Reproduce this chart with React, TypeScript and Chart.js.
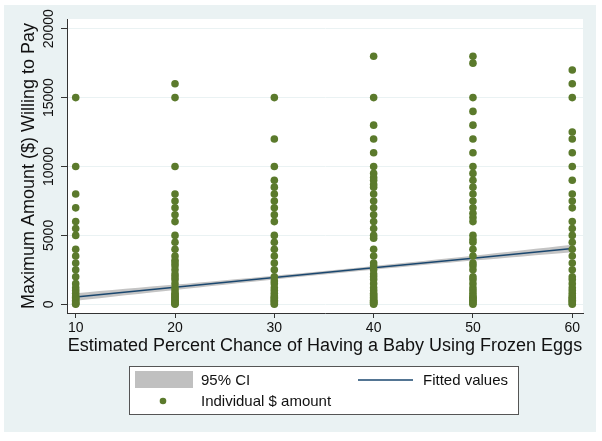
import React, { useEffect, useRef } from "react";
import { Chart, registerables } from "chart.js";

Chart.register(...registerables);

// ---- data ----
const xTicks = [10, 20, 30, 40, 50, 60];
const yTicks = [0, 5000, 10000, 15000, 20000];

const col10 = [15000, 10000, 8000, 7000, 6000, 5500, 5000, 4000, 3500, 3000, 2500, 2000, 1500, 1200, 1000, 800, 600, 500, 400, 300, 200, 100, 50, 0];
const col20 = [16000, 15000, 10000, 8000, 7500, 7000, 6500, 6000, 5000, 4500, 4000, 3500, 3200, 3000, 2800, 2500, 2200, 2000, 1800, 1500, 1200, 1000, 800, 700, 600, 500, 400, 300, 200, 100, 50, 0];
const col30 = [15000, 12000, 10000, 9000, 8500, 8000, 7500, 7000, 6500, 6000, 5000, 4500, 4000, 3500, 3000, 2500, 2000, 1700, 1500, 1200, 1000, 800, 600, 500, 400, 300, 200, 100, 0];
const col40 = [18000, 15000, 13000, 12000, 11000, 10000, 9500, 9200, 9000, 8700, 8500, 8000, 7500, 7000, 6500, 6000, 5500, 5000, 4800, 4000, 3500, 3000, 2800, 2500, 2200, 2000, 1800, 1500, 1200, 1000, 800, 700, 600, 500, 400, 300, 250, 200, 150, 100, 50, 0];
const col50 = [18000, 17500, 15000, 14000, 13000, 12000, 11000, 10000, 9500, 9000, 8500, 8000, 7500, 7000, 6600, 6300, 6000, 5000, 4700, 4500, 4000, 3500, 3000, 2800, 2500, 2000, 1800, 1500, 1200, 1000, 800, 600, 500, 400, 300, 200, 100, 0];
const col60 = [17000, 16000, 15000, 12500, 12000, 11000, 10000, 9000, 8000, 7500, 7000, 6000, 5500, 5000, 4500, 4000, 3500, 3000, 2500, 2000, 1800, 1500, 1200, 1000, 800, 600, 500, 400, 300, 200, 100, 0];
const columns = [col10, col20, col30, col40, col50, col60];

const fitY = [530, 1235, 1940, 2645, 3350, 4055];
const ciLow = [260, 1040, 1800, 2505, 3170, 3785];
const ciHigh = [800, 1430, 2080, 2785, 3530, 4325];

const labels = {
  ci: "95% CI",
  fit: "Fitted values",
  pts: "Individual $ amount",
  xTitle: "Estimated Percent Chance of Having a Baby Using Frozen Eggs",
  yTitle: "Maximum Amount ($) Willing to Pay",
};

// ---- styles ----
const FONT = "'Liberation Sans', Arial, Helvetica, sans-serif";
const GREEN = "#5B7A2C";
const NAVY = "#1A476F";
const BAND = "#C4C4C4";
const BG = "#EAF2F3";
const AXIS = "#333333";

const bgPlugin = {
  id: "stataBg",
  beforeDraw(chart: any) {
    const { ctx, chartArea } = chart;
    ctx.save();
    ctx.fillStyle = "#ffffff";
    ctx.fillRect(0, 0, chart.width, chart.height);
    ctx.fillStyle = BG;
    ctx.fillRect(4, 5, 592, 427);
    ctx.fillStyle = "#ffffff";
    ctx.fillRect(chartArea.left, chartArea.top, chartArea.right - chartArea.left, chartArea.bottom - chartArea.top);
    ctx.restore();
  },
};

const legendPlugin = {
  id: "stataLegend",
  afterDraw(chart: any) {
    const { ctx } = chart;
    ctx.save();
    ctx.fillStyle = "#ffffff";
    ctx.fillRect(129.5, 366.5, 389, 48);
    ctx.strokeStyle = "#555555";
    ctx.lineWidth = 1;
    ctx.strokeRect(129.5, 366.5, 389, 48);
    ctx.fillStyle = "#C0C0C0";
    ctx.fillRect(135, 371, 58, 17);
    ctx.strokeStyle = NAVY;
    ctx.lineWidth = 1.5;
    ctx.beginPath();
    ctx.moveTo(358, 380);
    ctx.lineTo(413, 380);
    ctx.stroke();
    ctx.fillStyle = GREEN;
    ctx.beginPath();
    ctx.arc(163, 401, 3.3, 0, Math.PI * 2);
    ctx.fill();
    ctx.fillStyle = "#111111";
    ctx.font = `15px ${FONT}`;
    ctx.textBaseline = "middle";
    ctx.textAlign = "left";
    ctx.fillText(labels.ci, 201, 380.5);
    ctx.fillText(labels.fit, 423, 380.5);
    ctx.fillText(labels.pts, 201, 401.5);
    ctx.restore();
  },
};

export default function App() {
  const ref = useRef<HTMLCanvasElement | null>(null);

  useEffect(() => {
    if (!ref.current) return;
    const points: { x: number; y: number }[] = [];
    columns.forEach((col, i) => col.forEach((v) => points.push({ x: xTicks[i], y: v })));
    const fitData = xTicks.map((x, i) => ({ x, y: fitY[i] }));
    const lowData = xTicks.map((x, i) => ({ x, y: ciLow[i] }));
    const highData = xTicks.map((x, i) => ({ x, y: ciHigh[i] }));

    Chart.defaults.font.family = FONT;

    const chart = new Chart(ref.current, {
      type: "scatter",
      data: {
        datasets: [
          {
            type: "scatter",
            label: labels.pts,
            data: points,
            backgroundColor: GREEN,
            borderColor: GREEN,
            borderWidth: 0,
            pointRadius: 3.8,
            order: 0,
          } as any,
          {
            type: "line",
            label: labels.fit,
            data: fitData,
            borderColor: NAVY,
            borderWidth: 1.5,
            pointRadius: 0,
            fill: false,
            tension: 0,
            order: 1,
          } as any,
          {
            type: "line",
            label: "ci-low",
            data: lowData,
            borderColor: "rgba(0,0,0,0)",
            borderWidth: 0,
            pointRadius: 0,
            fill: false,
            tension: 0.3,
            order: 3,
          } as any,
          {
            type: "line",
            label: labels.ci,
            data: highData,
            borderColor: "rgba(0,0,0,0)",
            backgroundColor: BAND,
            borderWidth: 0,
            pointRadius: 0,
            fill: 2,
            tension: 0.3,
            order: 2,
          } as any,
        ],
      },
      options: {
        animation: false,
        responsive: false,
        events: [],
        layout: { padding: { left: 0, top: 19, right: 19, bottom: 83 } },
        plugins: {
          legend: { display: false },
          tooltip: { enabled: false },
          filler: { propagate: false },
        },
        scales: {
          x: {
            type: "linear",
            min: 9.124,
            max: 61.08,
            afterBuildTicks: (s: any) => {
              s.ticks = xTicks.map((v) => ({ value: v }));
            },
            afterFit: (s: any) => {
              s.height = 45;
            },
            grid: { drawOnChartArea: false, tickColor: AXIS, tickLength: 5, lineWidth: 1 },
            border: { display: true, color: AXIS, width: 1 },
            ticks: {
              padding: 2,
              maxRotation: 0,
              minRotation: 0,
              color: "#111111",
              font: { size: 14, family: FONT },
              callback: (v: any) => String(v),
            },
            title: {
              display: true,
              text: labels.xTitle,
              color: "#111111",
              font: { size: 18, family: FONT },
              padding: { top: 0, bottom: 1 },
            },
          },
          y: {
            type: "linear",
            min: -631,
            max: 20704,
            afterBuildTicks: (s: any) => {
              s.ticks = yTicks.map((v) => ({ value: v }));
            },
            afterFit: (s: any) => {
              s.width = 67;
            },
            grid: { color: BG, tickColor: AXIS, tickLength: 6, lineWidth: 1 },
            border: { display: true, color: AXIS, width: 1 },
            ticks: {
              minRotation: 90,
              maxRotation: 90,
              crossAlign: "center",
              padding: -8,
              color: "#111111",
              font: { size: 14, family: FONT },
              callback: (v: any) => String(v),
            },
            title: {
              display: true,
              text: labels.yTitle,
              color: "#111111",
              font: { size: 18, family: FONT },
              padding: { top: 18.5, bottom: 0 },
            },
          },
        },
      } as any,
      plugins: [bgPlugin, legendPlugin],
    });
    return () => chart.destroy();
  }, []);

  return (
    <div style={{ position: "fixed", left: 0, top: 0, width: 602, height: 441 }}>
      <canvas ref={ref} width={602} height={441} style={{ width: 602, height: 441, display: "block" }} />
    </div>
  );
}
